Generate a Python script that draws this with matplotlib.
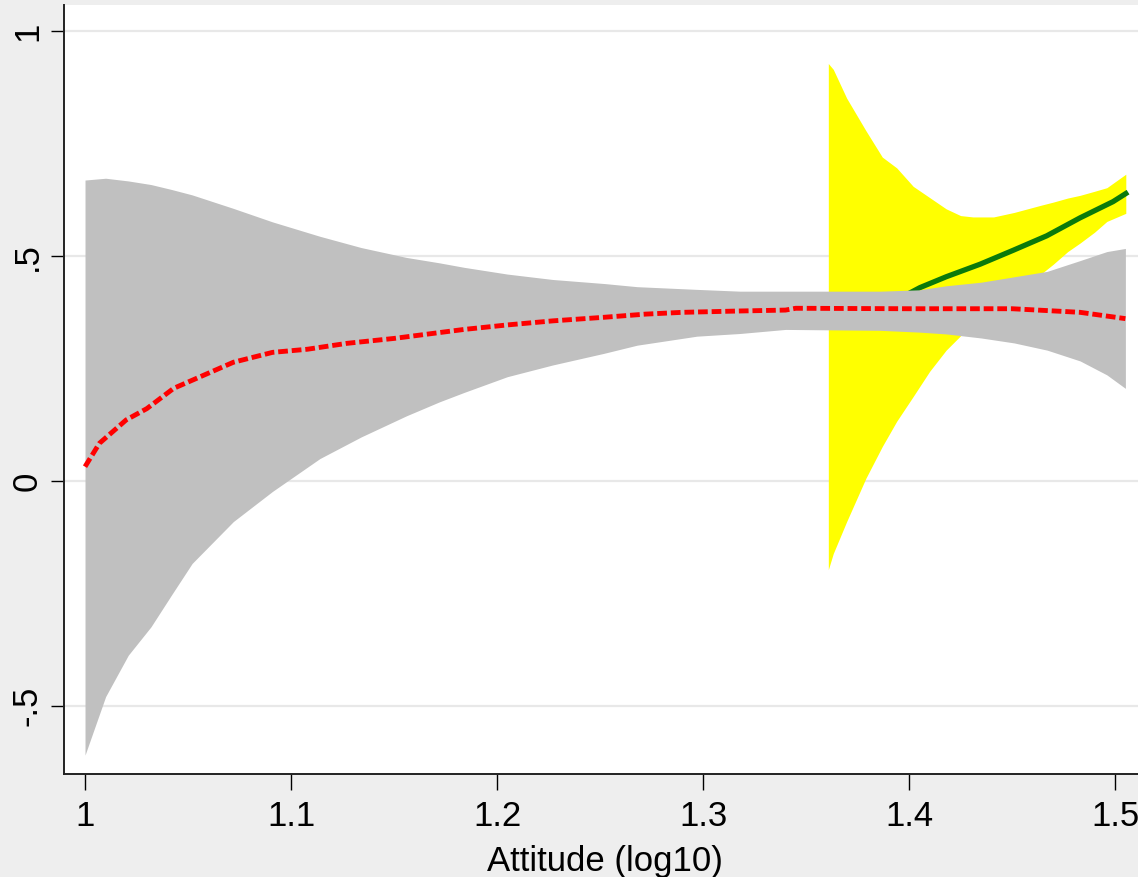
"""Stata-style fitted curves with confidence bands, Attitude (log10)."""

import matplotlib

matplotlib.use("Agg")
import matplotlib.pyplot as plt

# 灰色置信带 (全部样本)
band_x = [1.000, 1.010, 1.021, 1.032, 1.042, 1.052, 1.072, 1.091, 1.114, 1.134,
          1.156, 1.172, 1.184, 1.205, 1.227, 1.252, 1.268, 1.297, 1.318, 1.340,
          1.386, 1.405, 1.418, 1.435, 1.451, 1.467, 1.483, 1.496, 1.505]
band_hi = [0.669, 0.673, 0.667, 0.659, 0.648, 0.636, 0.606, 0.576, 0.544, 0.519,
           0.497, 0.485, 0.475, 0.460, 0.448, 0.439, 0.432, 0.426, 0.422, 0.422,
           0.422, 0.425, 0.434, 0.442, 0.454, 0.466, 0.490, 0.510, 0.517]
band_lo = [-0.609, -0.479, -0.387, -0.324, -0.253, -0.183, -0.090, -0.023, 0.050, 0.098,
           0.145, 0.176, 0.197, 0.232, 0.258, 0.284, 0.302, 0.322, 0.328, 0.337,
           0.335, 0.331, 0.327, 0.318, 0.307, 0.291, 0.267, 0.236, 0.206]

# 红色虚线拟合
fit_x = [1.000, 1.007, 1.020, 1.030, 1.043, 1.056, 1.072, 1.091, 1.108, 1.127,
         1.150, 1.172, 1.184, 1.205, 1.227, 1.252, 1.272, 1.290, 1.318, 1.340,
         1.345, 1.400, 1.450, 1.483, 1.505]
fit_y = [0.032, 0.084, 0.136, 0.161, 0.206, 0.232, 0.264, 0.286, 0.293, 0.306,
         0.317, 0.330, 0.337, 0.347, 0.356, 0.364, 0.371, 0.375, 0.378, 0.380,
         0.384, 0.383, 0.383, 0.375, 0.361]

# 黄色置信带 (子样本)
sub_x = [1.3608, 1.3632, 1.3697, 1.3790, 1.3870, 1.3940, 1.4020, 1.4100, 1.4180, 1.4250,
         1.4310, 1.4410, 1.4510, 1.4640, 1.4700, 1.4770, 1.4830, 1.4900, 1.4960, 1.5052]
sub_hi = [0.928, 0.915, 0.851, 0.779, 0.720, 0.696, 0.655, 0.630, 0.605, 0.590,
          0.587, 0.587, 0.597, 0.613, 0.620, 0.629, 0.635, 0.644, 0.652, 0.682]
sub_lo = [-0.197, -0.161, -0.090, 0.006, 0.077, 0.133, 0.188, 0.244, 0.291, 0.323,
          0.360, 0.400, 0.430, 0.460, 0.482, 0.510, 0.529, 0.553, 0.577, 0.595]

# 绿色拟合线
sub_fit_x = [1.3608, 1.380, 1.395, 1.4053, 1.418, 1.4345, 1.4506, 1.4668, 1.483, 1.499, 1.5052]
sub_fit_y = [0.380, 0.390, 0.405, 0.430, 0.454, 0.482, 0.513, 0.545, 0.585, 0.621, 0.639]

xticks = [1.0, 1.1, 1.2, 1.3, 1.4, 1.5]
xtick_labels = ["1", "1.1", "1.2", "1.3", "1.4", "1.5"]
yticks = [-0.5, 0.0, 0.5, 1.0]
ytick_labels = ["-.5", "0", ".5", "1"]


def main():
    plt.rcParams["font.family"] = ["Liberation Sans Narrow", "Liberation Sans", "DejaVu Sans"]

    fig = plt.figure(figsize=(11.38, 8.77), dpi=100, facecolor="#EEEEEE")
    ax = fig.add_axes([64 / 1138, 103 / 877, 1082 / 1138, 769 / 877])
    ax.set_facecolor("white")

    ax.fill_between(sub_x, sub_lo, sub_hi, color="#FFFF00", lw=0, zorder=2)
    ax.plot(sub_fit_x, sub_fit_y, color="#0B7A0B", lw=3.8, zorder=3)
    ax.fill_between(band_x, band_lo, band_hi, color="#C0C0C0", lw=0, zorder=4)
    ax.plot(fit_x, fit_y, color="#FF0000", lw=3.5, dashes=(2.0, 0.8),
            dash_capstyle="butt", zorder=5)

    ax.set_xlim(0.9898, 1.515)
    ax.set_ylim(-0.651, 1.058)
    ax.set_xticks(xticks)
    ax.set_xticklabels(xtick_labels)
    ax.set_yticks(yticks)
    ax.set_yticklabels(ytick_labels, rotation=90, va="center")

    ax.grid(axis="y", color="#E8E8E8", lw=1.6, zorder=1)
    ax.set_axisbelow(True)
    for side in ("top", "right"):
        ax.spines[side].set_visible(False)
    for side in ("left", "bottom"):
        ax.spines[side].set_linewidth(1.4)
        ax.spines[side].set_color("#222222")

    ax.tick_params(axis="x", length=11.5, width=1.0, pad=7, labelsize=25)
    ax.tick_params(axis="y", length=9.4, width=1.0, pad=5, labelsize=25)

    fig.text(605 / 1138, 6 / 877, "Attitude (log10)", ha="center", va="baseline",
             fontsize=25)

    fig.savefig("out.png", dpi=100, facecolor=fig.get_facecolor())


if __name__ == "__main__":
    main()
